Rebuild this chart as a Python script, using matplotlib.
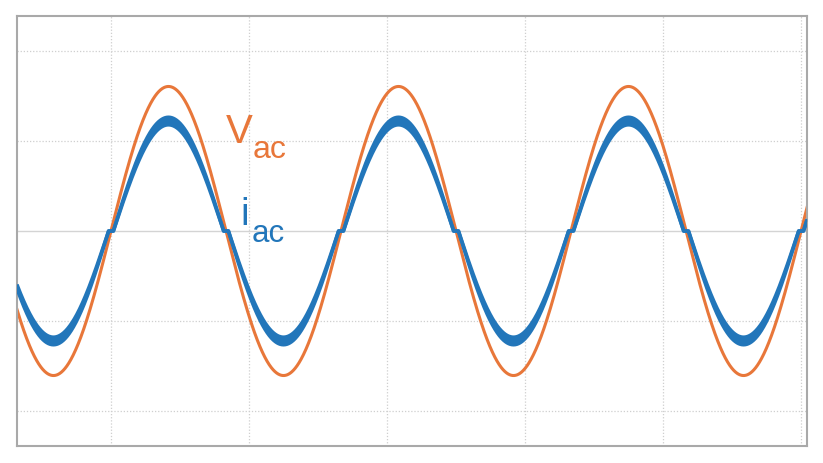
import numpy as np
import matplotlib
matplotlib.use("Agg")
from matplotlib import pyplot as plt

plt.rcParams['font.family'] = ['Liberation Sans', 'DejaVu Sans']

# waveform parameters (time in ms)
freq_hz = 60.0
t0_ms = 10.0          # rising zero crossing of Vac
v_amp = 1.61
i_amp = 1.225
i_ripple = 0.034      # half width of the current band, relative
dead_ms = 0.35        # current held at zero around each crossing
x_grid = [10, 20, 30, 40, 50, 60]
y_grid = [-2, -1, 0, 1, 2]
labels = ['V', 'i']
sub = 'ac'

c_v = '#E8773A'
c_i = '#2276BA'

t = np.linspace(3.0, 61.0, 6000)
period = 1000.0 / freq_hz
phase = 2 * np.pi * (t - t0_ms) / period
v = v_amp * np.sin(phase)

# current: sine squeezed between short dead zones at the crossings
delta = 2 * np.pi * dead_ms / period
ph = np.mod(phase, np.pi)
half = np.clip((ph - delta / 2) / (np.pi - delta), 0, 1)
sgn = np.where(np.mod(phase, 2 * np.pi) < np.pi, 1.0, -1.0)
i = sgn * i_amp * np.sin(np.pi * half)

fig = plt.figure(figsize=(8.23, 4.63), dpi=100)
ax = fig.add_axes([17 / 823, 1 - 446 / 463, 790 / 823, 430 / 463])

for xg in x_grid:
    ax.axvline(xg, color='#cfcfcf', lw=0.9, ls=(0, (1, 1.5)), zorder=0)
for yg in y_grid:
    if yg == 0:
        ax.axhline(yg, color='#d4d4d4', lw=1.0, zorder=0)
    else:
        ax.axhline(yg, color='#cfcfcf', lw=0.9, ls=(0, (1, 1.5)), zorder=0)

ax.plot(t, v, color=c_v, lw=2.2, zorder=2)
ax.fill_between(t, i * (1 - i_ripple), i * (1 + i_ripple), color=c_i, lw=0, zorder=3)
ax.plot(t, i * (1 + i_ripple), color=c_i, lw=2.6, zorder=3, solid_capstyle='butt')
ax.plot(t, i * (1 - i_ripple), color=c_i, lw=2.6, zorder=3, solid_capstyle='butt')


def px(x, y):
    # picture pixels -> data coords
    return 10 + (x - 111) / 13.8, (231 - y) / 89.75


ax.text(*px(226, 143), labels[0], color=c_v, fontsize=29, va='baseline')
ax.text(*px(253, 158), sub, color=c_v, fontsize=23, va='baseline')
ax.text(*px(240, 225), labels[1], color=c_i, fontsize=28, va='baseline')
ax.text(*px(252, 242), sub, color=c_i, fontsize=22.5, va='baseline')

ax.set_xlim(3.19, 60.43)
ax.set_ylim(-2.395, 2.395)
ax.set_xticks([])
ax.set_yticks([])
for s in ax.spines.values():
    s.set_color('#a9a9a9')
    s.set_linewidth(1.5)

fig.savefig('out.png', dpi=100)
